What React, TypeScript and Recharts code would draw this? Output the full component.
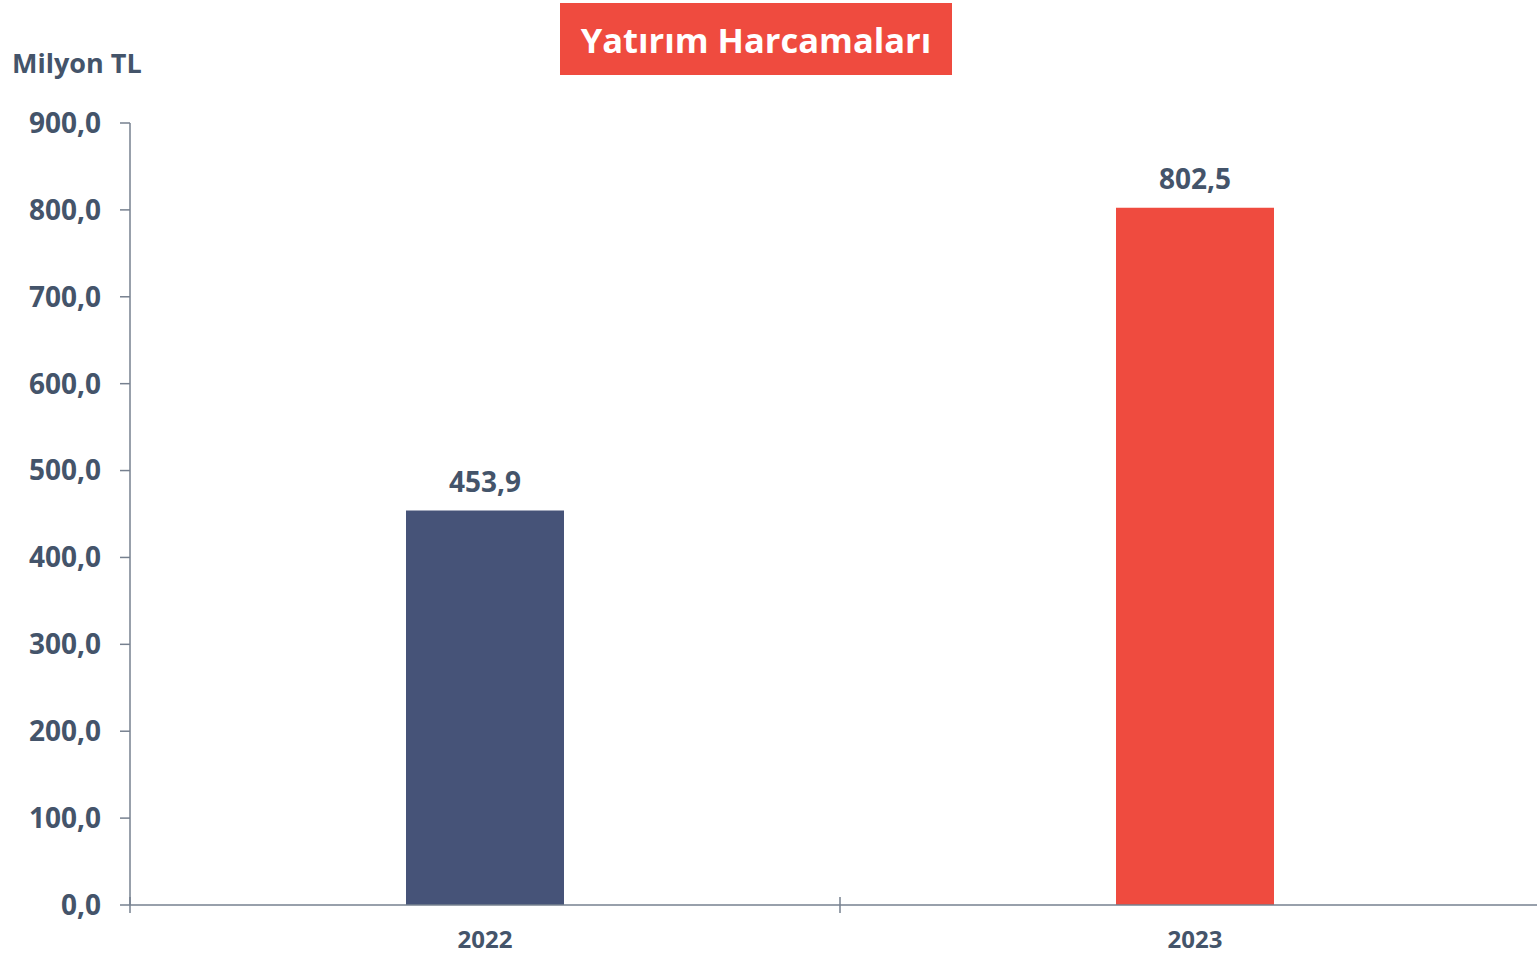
import React from "react";
import { BarChart, Bar, XAxis, YAxis, Cell, LabelList } from "recharts";

const years = ["2022", "2023"];
const values = [453.9, 802.5];
const barColors = ["#465378", "#EF4B3F"];
const yTicks = [0, 100, 200, 300, 400, 500, 600, 700, 800, 900];
const titleText = "Yatırım Harcamaları";
const unitText = "Milyon TL";

const data = years.map((y, i) => ({ year: y, value: values[i] }));

const TEXT = "#44546A";
const AXIS = "#76808F";
const FONT = "'Open Sans', sans-serif";

const CHART_W = 1550;
const Y_AXIS_W = 130;
const PLOT_W = CHART_W - Y_AXIS_W;
const BAND = PLOT_W / years.length;
const X_TICK_MARGIN = 26;

const fmt = (v: number) => v.toFixed(1).replace(".", ",");

const XTick = (props: any) => {
  const { x, y, payload } = props;
  const axisY = y - X_TICK_MARGIN;
  const bx = x - BAND / 2;
  return (
    <g>
      <line x1={bx} x2={bx} y1={axisY - 8} y2={axisY + 8} stroke={AXIS} strokeWidth={1.5} />
      <text
        x={x}
        y={y}
        dy="0.71em"
        textAnchor="middle"
        fill={TEXT}
        fontSize={24}
        fontWeight={700}
        fontFamily={FONT}
      >
        {payload.value}
      </text>
    </g>
  );
};

export default function App() {
  return (
    <div
      style={{
        position: "absolute",
        left: 0,
        top: 0,
        width: 1537,
        height: 958,
        overflow: "hidden",
        background: "#fff",
        fontFamily: FONT,
      }}
    >
      <div
        style={{
          position: "absolute",
          left: 560,
          top: 3,
          width: 392,
          height: 72,
          background: "#EF4B3F",
          color: "#fff",
          fontWeight: 700,
          fontSize: 34.5,
          display: "flex",
          alignItems: "center",
          justifyContent: "center",
          fontFamily: FONT,
        }}
      >
        {titleText}
      </div>
      <div
        style={{
          position: "absolute",
          left: 12,
          top: 44,
          color: TEXT,
          fontWeight: 700,
          fontSize: 27,
          lineHeight: "38px",
          fontFamily: FONT,
        }}
      >
        {unitText}
      </div>
      <BarChart
        width={CHART_W}
        height={958}
        data={data}
        margin={{ top: 123, right: 0, bottom: 0, left: 0 }}
        barCategoryGap={0}
      >
        <XAxis
          dataKey="year"
          height={53}
          tickSize={0}
          tickMargin={X_TICK_MARGIN}
          axisLine={{ stroke: AXIS, strokeWidth: 1.5 }}
          tickLine={false}
          tick={<XTick />}
        />
        <YAxis
          width={Y_AXIS_W}
          domain={[0, 900]}
          ticks={yTicks}
          interval={0}
          tickFormatter={fmt}
          tickSize={10}
          tickMargin={19}
          axisLine={{ stroke: AXIS, strokeWidth: 1.5 }}
          tickLine={{ stroke: AXIS, strokeWidth: 1.5 }}
          tick={{ fill: TEXT, fontSize: 28, fontWeight: 700, fontFamily: FONT }}
        />
        <Bar dataKey="value" barSize={158} isAnimationActive={false}>
          {data.map((d, i) => (
            <Cell key={d.year} fill={barColors[i]} />
          ))}
          <LabelList
            dataKey="value"
            position="top"
            offset={19}
            formatter={(v: number) => fmt(v)}
            fill={TEXT}
            fontSize={28}
            fontWeight={700}
            fontFamily={FONT}
          />
        </Bar>
      </BarChart>
    </div>
  );
}
